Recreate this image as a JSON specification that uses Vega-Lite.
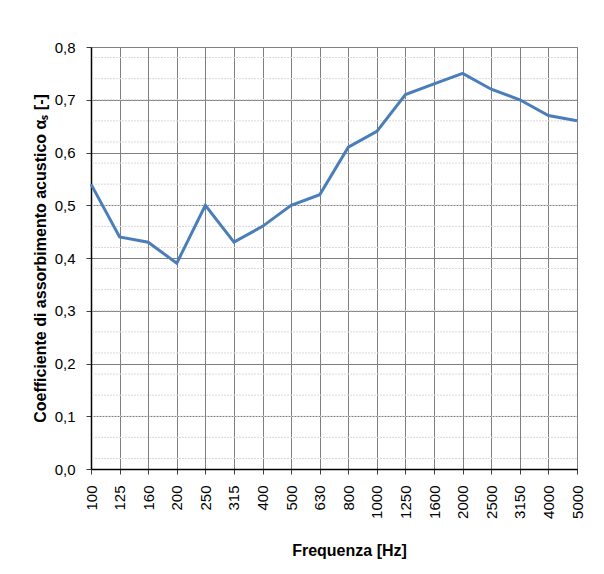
{
  "$schema": "https://vega.github.io/schema/vega-lite/v6.json",
  "width": 486,
  "height": 422,
  "autosize": {"type": "none"},
  "padding": {"left": 91, "top": 47, "right": 27, "bottom": 105},
  "background": "white",
  "config": {
    "font": "Liberation Sans",
    "view": {"stroke": "#a6a6a6", "strokeWidth": 1},
    "axis": {
      "labelFont": "Liberation Sans",
      "titleFont": "Liberation Sans",
      "labelColor": "#000000",
      "titleColor": "#000000",
      "domainColor": "#404040",
      "tickColor": "#404040",
      "gridColor": "#7f7f7f",
      "gridOpacity": 1,
      "gridWidth": 1,
      "tickSize": 5
    }
  },
  "datasets": {
    "main": [
      {"f": "100", "a": 0.54},
      {"f": "125", "a": 0.44},
      {"f": "160", "a": 0.43},
      {"f": "200", "a": 0.39},
      {"f": "250", "a": 0.50},
      {"f": "315", "a": 0.43},
      {"f": "400", "a": 0.46},
      {"f": "500", "a": 0.50},
      {"f": "630", "a": 0.52},
      {"f": "800", "a": 0.61},
      {"f": "1000", "a": 0.64},
      {"f": "1250", "a": 0.71},
      {"f": "1600", "a": 0.73},
      {"f": "2000", "a": 0.75},
      {"f": "2500", "a": 0.72},
      {"f": "3150", "a": 0.70},
      {"f": "4000", "a": 0.67},
      {"f": "5000", "a": 0.66}
    ],
    "minor": [
      {"m": 0.02}, {"m": 0.06}, {"m": 0.10}, {"m": 0.14}, {"m": 0.18},
      {"m": 0.22}, {"m": 0.26}, {"m": 0.30}, {"m": 0.34}, {"m": 0.38},
      {"m": 0.42}, {"m": 0.46}, {"m": 0.50}, {"m": 0.54}, {"m": 0.58},
      {"m": 0.62}, {"m": 0.66}, {"m": 0.70}, {"m": 0.74}, {"m": 0.78}
    ]
  },
  "layer": [
    {
      "data": {"name": "minor"},
      "mark": {"type": "rule", "color": "#d9d9d9", "strokeWidth": 1, "strokeDash": [2, 1]},
      "encoding": {
        "y": {"field": "m", "type": "quantitative", "scale": {"domain": [0, 0.8]}}
      }
    },
    {
      "data": {"name": "main"},
      "mark": {"type": "line", "color": "#4a7ebb", "strokeWidth": 3, "strokeJoin": "miter"},
      "encoding": {
        "x": {
          "field": "f",
          "type": "ordinal",
          "sort": null,
          "scale": {"type": "point", "padding": 0},
          "axis": {
            "title": "Frequenza [Hz]",
            "titleFontSize": 16,
            "titleFontWeight": "bold",
            "titlePadding": 24,
            "titleX": 258,
            "labelAngle": 270,
            "labelFontSize": 15,
            "labelPadding": 11,
            "grid": true,
            "domainColor": "#000000",
            "domainWidth": 1.5
          }
        },
        "y": {
          "field": "a",
          "type": "quantitative",
          "scale": {"domain": [0, 0.8], "nice": false},
          "axis": {
            "title": "Coefficiente di assorbimento acustico αₛ [-]",
            "titleFontSize": 16,
            "titleFontWeight": "bold",
            "titlePadding": 6,
            "values": [0, 0.1, 0.2, 0.3, 0.4, 0.5, 0.6, 0.7, 0.8],
            "labelExpr": "replace(format(datum.value, '.1f'), '.', ',')",
            "labelFontSize": 15,
            "labelPadding": 11,
            "grid": true,
            "domainColor": "#000000",
            "domainWidth": 1.5
          }
        }
      }
    }
  ]
}
